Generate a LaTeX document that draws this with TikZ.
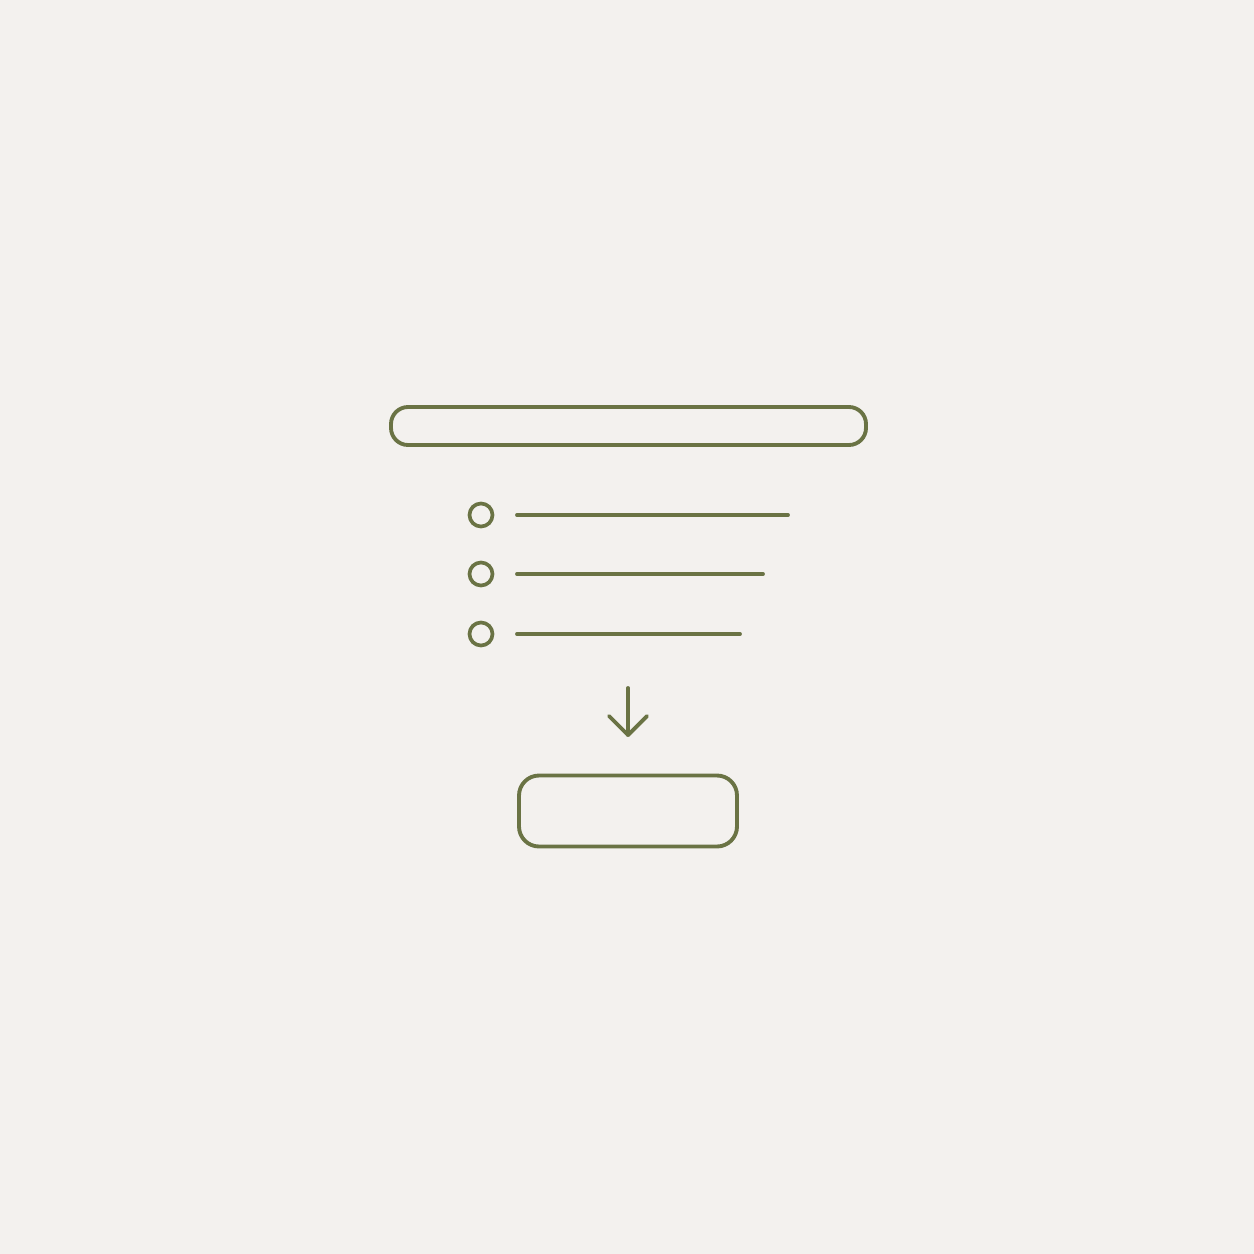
\documentclass[tikz,border=0pt]{standalone}
\begin{document}
\begin{tikzpicture}[x=0.02cm,y=-0.02cm,
  every node/.style={inner sep=0pt,outer sep=0pt},
  stroke/.style={draw=olive7,line width=2.2pt,line cap=round,line join=round},
  barbox/.style={stroke,rectangle,rounded corners=17*0.02cm,minimum width=475*0.02cm,minimum height=38*0.02cm},
  btnbox/.style={stroke,rectangle,rounded corners=20*0.02cm,minimum width=218*0.02cm,minimum height=71*0.02cm},
  bullet/.style={stroke,circle,line width=2.1pt,minimum size=23*0.02cm}]
\definecolor{olive7}{RGB}{106,115,68}
\definecolor{bg}{RGB}{243,241,238}
\fill[bg] (0,0) rectangle (1254,1254);
\useasboundingbox (0,0) rectangle (1254,1254);
\node[barbox] (bar) at (628.5,426) {};
\node[bullet] (c1) at (481,515) {};
\node[bullet] (c2) at (481,574) {};
\node[bullet] (c3) at (481,634) {};
\coordinate (l1a) at (517,515); \coordinate (l1b) at (788,515);
\coordinate (l2a) at (517,574); \coordinate (l2b) at (763,574);
\coordinate (l3a) at (517,634); \coordinate (l3b) at (740,634);
\draw[stroke] (l1a) -- (l1b);
\draw[stroke] (l2a) -- (l2b);
\draw[stroke] (l3a) -- (l3b);
\coordinate (at) at (628,688); \coordinate (ab) at (628,735);
\draw[stroke] (at) -- (ab);
\draw[stroke] (609,716) -- (ab) -- (647,716);
\node[btnbox] (btn) at (628,811) {};
\end{tikzpicture}
\end{document}
